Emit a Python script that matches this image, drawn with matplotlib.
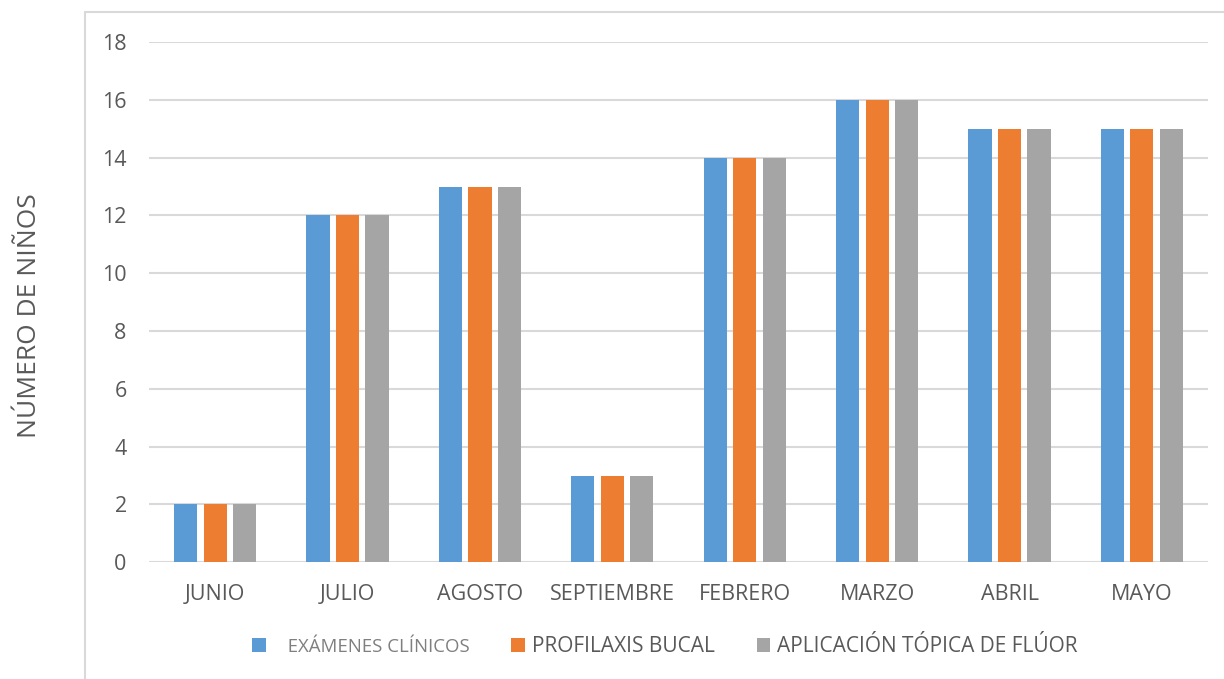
import matplotlib.pyplot as plt
import numpy as np
from matplotlib.patches import Rectangle

meses = ['JUNIO', 'JULIO', 'AGOSTO', 'SEPTIEMBRE', 'FEBRERO', 'MARZO', 'ABRIL', 'MAYO']
examenes = [2, 12, 13, 3, 14, 16, 15, 15]
profilaxis = [2, 12, 13, 3, 14, 16, 15, 15]
fluor = [2, 12, 13, 3, 14, 16, 15, 15]
series = ['   EXÁMENES CLÍNICOS', 'PROFILAXIS BUCAL', 'APLICACIÓN TÓPICA DE FLÚOR']
colores = ['#5B9BD5', '#ED7D31', '#A5A5A5']

plt.rcParams['font.family'] = ['Open Sans', 'DejaVu Sans']
texto = '#595959'

fig = plt.figure(figsize=(12.24, 6.79), dpi=100)
ax = fig.add_axes([0.1217, 0.172, 0.8653, 0.766])

# marco del gráfico
fig.patches.append(Rectangle((85 / 1224, -0.05), 1.0, 1 - 12 / 679 + 0.05,
                             transform=fig.transFigure, fill=False,
                             edgecolor='#D9D9D9', linewidth=1.5))

x = np.arange(len(meses))
ancho = 0.175
paso = 0.223
for i, (vals, nombre, c) in enumerate(zip([examenes, profilaxis, fluor], series, colores)):
    ax.bar(x + (i - 1) * paso, vals, ancho, color=c, label=nombre, zorder=3)

ax.set_xlim(-0.5, len(meses) - 0.5)
ax.set_ylim(0, 18)
ax.set_yticks(range(0, 19, 2))
ax.set_xticks(x)
ax.set_xticklabels(meses)
ax.grid(axis='y', color='#D9D9D9', linewidth=1.5, zorder=0)
for s in ax.spines.values():
    s.set_visible(False)
ax.tick_params(axis='both', length=0, labelsize=15.5, labelcolor=texto)
ax.tick_params(axis='y', pad=16)
ax.tick_params(axis='x', pad=16)

fig.text(30 / 1224, 1 - 316 / 679, 'NÚMERO DE NIÑOS', rotation=90,
         ha='center', va='center', fontsize=19, color=texto)

leg = fig.legend(loc='center', bbox_to_anchor=(665 / 1224, 1 - 647 / 679), ncol=3,
                 frameon=False, fontsize=15, handlelength=0.65, handleheight=0.65,
                 handletextpad=0.35, columnspacing=2.0, labelcolor=texto)
t0 = leg.get_texts()[0]
t0.set_fontsize(13.4)
t0.set_color('#7F7F7F')

fig.savefig('out.png', dpi=100)
